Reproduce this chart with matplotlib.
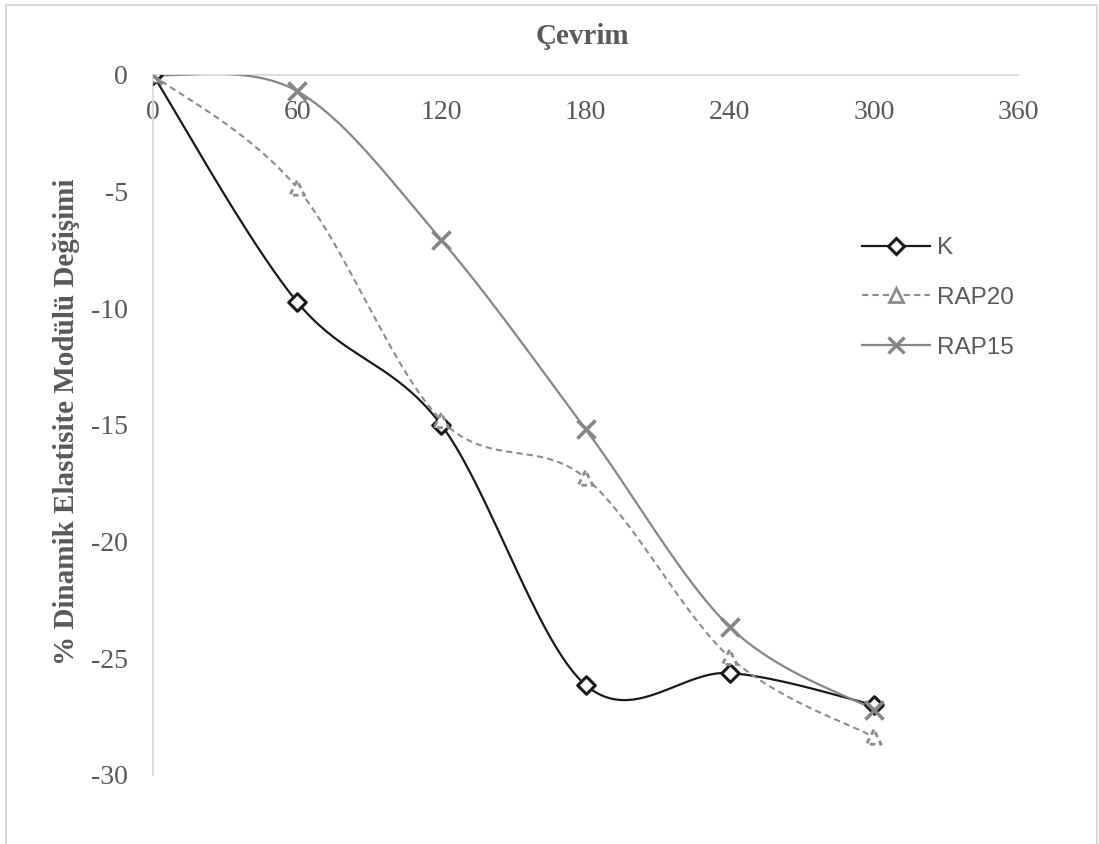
import numpy as np
import matplotlib
matplotlib.use("Agg")
import matplotlib.pyplot as plt
from matplotlib.lines import Line2D
from matplotlib.patches import Rectangle

# Freeze-thaw cycles and change in dynamic modulus of elasticity (%)
cycles = [0, 60, 120, 180, 240, 300]
k_vals = [0.0, -9.73, -15.0, -26.14, -25.63, -27.0]
rap20_vals = [0.0, -4.84, -14.8, -17.27, -24.95, -28.37]
rap15_vals = [0.0, -0.69, -7.07, -15.17, -23.65, -27.2]

x_ticks = [0, 60, 120, 180, 240, 300, 360]
y_ticks = [0, -5, -10, -15, -20, -25, -30]
series_names = ["K", "RAP20", "RAP15"]

SERIF = "Liberation Serif"
SANS = "Liberation Sans"
TXT = "#595959"


def smooth(xs, ys, n=40):
    """Catmull-Rom style cubic Bezier smoothing through every point."""
    p = np.column_stack([xs, ys]).astype(float)
    pts = []
    m = len(p)
    for i in range(m - 1):
        p0 = p[i - 1] if i > 0 else p[i]
        p1 = p[i]
        p2 = p[i + 1]
        p3 = p[i + 2] if i + 2 < m else p[i + 1]
        c1 = p1 + (p2 - p0) / 6.0
        c2 = p2 - (p3 - p1) / 6.0
        t = np.linspace(0, 1, n)[:, None]
        seg = ((1 - t) ** 3) * p1 + 3 * ((1 - t) ** 2) * t * c1 \
            + 3 * (1 - t) * t ** 2 * c2 + t ** 3 * p2
        pts.append(seg if i == 0 else seg[1:])
    out = np.vstack(pts)
    return out[:, 0], out[:, 1]


fig = plt.figure(figsize=(10.99, 8.44), dpi=100)
ax = fig.add_axes([153 / 1099, 1 - 775 / 844, (1018 - 153) / 1099, 700 / 844])

# chart frame
fig.patches.append(Rectangle((6 / 1099, -0.01), (1097 - 6) / 1099, 1 - 5 / 844 + 0.01,
                             transform=fig.transFigure, fill=False,
                             edgecolor="#d9d9d9", linewidth=1.5))

# K series
sx, sy = smooth(cycles, k_vals)
ax.plot(sx, sy, color="#1a1a1a", linewidth=1.6, zorder=3)
ax.scatter(cycles, k_vals, marker="D", s=80, facecolors="white",
           edgecolors="#1a1a1a", linewidths=2.2, zorder=4)

# RAP20 series
sx, sy = smooth(cycles, rap20_vals)
ax.plot(sx, sy, color="#8c8c8c", linewidth=1.5, linestyle=(0, (3, 2)), zorder=3)
ax.scatter(cycles, rap20_vals, marker="^", s=110, facecolors="white",
           edgecolors="#8c8c8c", linewidths=2.0, linestyle=(0, (2, 1.5)), zorder=5)

# RAP15 series
sx, sy = smooth(cycles, rap15_vals)
ax.plot(sx, sy, color="#868686", linewidth=1.6, zorder=3)
ax.scatter(cycles, rap15_vals, marker="x", s=170, color="#868686",
           linewidths=2.6, zorder=6)

ax.set_xlim(0, 360)
ax.set_ylim(-30, 0)
ax.set_xticks(x_ticks)
ax.set_yticks(y_ticks)
ax.set_xticklabels([str(v) for v in x_ticks])
ax.set_yticklabels([str(v) for v in y_ticks])

for s in ["right", "top"]:
    ax.spines[s].set_visible(False)
ax.spines["bottom"].set_position(("data", 0))
ax.spines["bottom"].set_color("#d9d9d9")
ax.spines["left"].set_color("#d9d9d9")
ax.spines["bottom"].set_linewidth(1.3)
ax.spines["left"].set_linewidth(1.3)
ax.spines["bottom"].set_zorder(1)

ax.tick_params(axis="both", length=0, labelcolor=TXT, labelsize=20)
ax.tick_params(axis="x", pad=18)
ax.tick_params(axis="y", pad=18)
for lab in ax.get_xticklabels() + ax.get_yticklabels():
    lab.set_fontfamily(SERIF)

fig.text(582 / 1099, 1 - 37 / 844, "Çevrim", ha="center", va="center",
         fontsize=21, fontweight="bold", color=TXT, family=SERIF)
fig.text(67 / 1099, 1 - 422 / 844, "% Dinamik Elastisite Modülü Değişimi",
         ha="center", va="center", rotation=90, fontsize=21,
         fontweight="bold", color=TXT, family=SERIF)

handles = [
    Line2D([], [], color="#1a1a1a", linewidth=1.6, marker="D", markersize=8,
           markerfacecolor="white", markeredgecolor="#1a1a1a", markeredgewidth=2.2),
    Line2D([], [], color="#8c8c8c", linewidth=1.5, linestyle=(0, (3, 2)), marker="^",
           markersize=10, markerfacecolor="white", markeredgecolor="#8c8c8c",
           markeredgewidth=2.0),
    Line2D([], [], color="#868686", linewidth=1.6, marker="x", markersize=11,
           markeredgecolor="#868686", markeredgewidth=2.4),
]
leg = fig.legend(handles, series_names, loc="center left",
                 bbox_to_anchor=(862 / 1099, 1 - 298 / 844), frameon=False,
                 prop={"family": SANS, "size": 17.5}, handlelength=2.8,
                 labelspacing=1.15, handletextpad=0.3, borderpad=0,
                 borderaxespad=0, labelcolor=TXT)

fig.savefig("out.png", dpi=100, facecolor="white")
